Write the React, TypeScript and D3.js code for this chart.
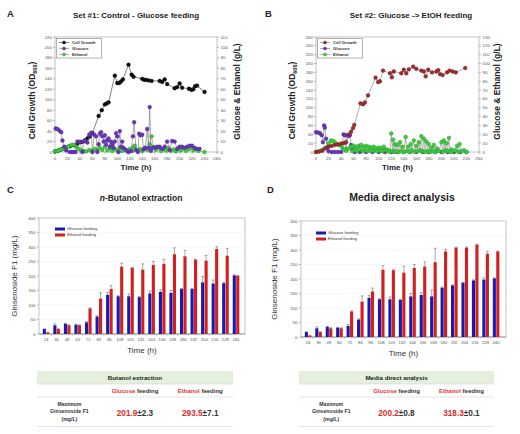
import React from "react";
import * as d3 from "d3";

const FONT = "Liberation Sans, Arial, Helvetica, sans-serif";

type Pt = [number, number];

// ---------- Panel A (Set #1: Control - Glucose feeding) ----------
const cellA: Pt[] = [
  [0, 1], [4, 2], [8, 4], [12, 6], [18, 8], [24, 11], [30, 13], [36, 16], [42, 19], [48, 22],
  [52, 26], [56, 30], [60, 36], [70, 69], [75, 80], [80, 91], [83, 93], [86, 95], [96, 146],
  [100, 132], [103, 132], [106, 135], [109, 139], [118, 167], [123, 148], [126, 144], [140, 140],
  [143, 138], [146, 138], [150, 137], [155, 136], [168, 136], [172, 134], [176, 139], [180, 130],
  [192, 122], [196, 124], [200, 131], [204, 123], [215, 121], [219, 119], [222, 120], [225, 126],
  [228, 127], [240, 115],
];
// glucose, g/L
const glcA: Pt[] = [
  [1, 22.5], [4, 22], [7, 20.5], [10, 19], [12, 11], [15, 5], [18, 1.5], [24, 0], [27, 0], [30, 0],
  [33, 0], [36, 10], [40, 10], [44, 0], [46, 10], [48, 11], [52, 9], [55, 16.5], [58, 18.5], [60, 0],
  [63, 16.5], [66, 15], [68, 0], [70, 7.5], [72, 17.5], [74, 19], [76, 15], [78, 10], [80, 16], [82, 7],
  [84, 11], [86, 13], [88, 5], [90, 10], [92, 7], [94, 4], [96, 10], [98, 18], [100, 15], [102, 0],
  [104, 20], [106, 5], [108, 10], [110, 4], [114, 2], [118, 0], [122, 1], [125, 15], [127, 28.5],
  [130, 2], [133, 0], [135, 17.5], [137, 16], [140, 16.5], [142, 2.5], [145, 4], [148, 22], [150, 4],
  [152, 43], [154, 1], [156, 4], [160, 4], [164, 5], [168, 5], [172, 3], [176, 5], [180, 10], [184, 2],
  [188, 10.5], [192, 10], [196, 3], [200, 5], [204, 5], [208, 4], [212, 5], [216, 6], [220, 6],
  [224, 4], [228, 3], [232, 3],
];
// ethanol, g/L
const ethA: Pt[] = [
  [0, 0.5], [3, 1], [6, 1.5], [10, 2.5], [14, 3.5], [18, 4.5], [22, 5.5], [26, 6.5], [30, 7], [34, 5],
  [38, 3], [42, 1.5], [46, 1], [50, 0.5], [55, 2], [60, 1], [64, 3], [68, 1.5], [72, 4], [76, 2],
  [80, 5], [84, 1.5], [88, 3.5], [92, 1], [96, 3], [100, 1.5], [104, 4], [108, 1], [112, 2.5],
  [116, 0.5], [120, 3], [124, 1], [126, 5], [128, 6], [132, 1.5], [136, 3], [140, 1], [144, 4],
  [148, 2], [152, 7.5], [155, 15], [158, 5], [162, 2], [166, 4], [170, 1], [174, 3], [178, 1.5],
  [182, 4], [186, 1], [190, 2.5], [194, 0.5], [198, 3], [202, 1.5], [206, 3.5], [210, 1], [214, 2.5],
  [218, 4], [222, 1.5], [226, 3], [230, 1], [240, 0],
];

// ---------- Panel B (Set #2: Glucose -> EtOH feeding) ----------
const cellB: Pt[] = [
  [0, 0], [5, 1], [10, 3], [15, 8], [20, 12], [25, 14], [30, 16], [35, 17], [40, 19], [44, 20],
  [48, 22], [53, 40], [56, 46], [59, 54], [61, 61], [71, 110], [75, 108], [78, 112], [83, 128],
  [95, 168], [99, 158], [102, 160], [107, 184], [118, 178], [121, 169], [124, 182], [136, 178],
  [140, 186], [144, 178], [148, 187], [155, 193], [160, 188], [168, 184], [172, 182], [175, 171],
  [179, 186], [185, 180], [192, 182], [195, 185], [198, 176], [202, 174], [209, 180], [213, 184],
  [218, 182], [223, 180], [238, 190],
];
const glcB: Pt[] = [
  [0, 22.5], [3, 22], [6, 21.5], [9, 19], [11, 11], [13, 30], [14, 27.5], [16, 15], [18, 5], [20, 1],
  [25, 0], [30, 0], [35, 0], [40, 0], [44, 20], [46, 19], [48, 2.5], [50, 19], [52, 18], [54, 19],
  [56, 8], [58, 2.5], [62, 0], [70, 0], [80, 0], [90, 0], [100, 0], [110, 0], [120, 0], [130, 0],
  [140, 0], [150, 0], [160, 0], [170, 0], [180, 0], [190, 0], [200, 0], [210, 0], [220, 0], [230, 0],
  [240, 0],
];
const ethB: Pt[] = [
  [0, 0], [5, 1], [10, 2.5], [15, 5], [20, 10], [24, 13], [27, 12.5], [30, 11], [34, 9], [38, 7.5],
  [42, 5], [45, 3], [48, 1.5], [52, 4], [56, 6], [58, 1], [60, 7], [62, 2], [64, 6], [66, 1], [68, 7],
  [70, 3], [72, 8], [74, 1], [76, 6], [78, 2], [80, 7], [82, 1], [84, 6], [86, 2], [88, 5], [90, 1],
  [92, 6], [94, 2], [96, 4], [98, 1], [100, 5], [102, 1.5], [104, 4], [106, 1], [108, 6], [110, 2],
  [112, 3], [114, 1], [116, 2], [118, 0], [120, 21], [122, 1], [123, 14], [125, 0], [126, 9], [128, 1],
  [130, 8], [132, 0], [134, 11], [136, 1], [138, 6], [140, 0], [143, 17], [145, 1], [147, 6], [149, 0],
  [151, 9], [153, 2], [156, 13], [158, 0], [160, 7], [162, 1], [164, 11], [166, 2], [168, 18], [170, 1],
  [172, 15], [174, 0], [176, 12], [178, 1], [180, 9], [182, 0], [184, 5], [186, 1], [188, 8], [190, 0],
  [193, 4], [196, 1], [200, 11], [202, 0], [204, 13], [206, 2], [208, 10], [210, 1], [212, 16],
  [214, 0], [216, 3], [218, 1], [222, 2], [225, 7], [227, 0], [229, 9], [232, 1], [236, 2], [240, 0],
];

// ---------- Panels C / D (Ginsenoside F1) ----------
const times = ["24", "36", "48", "60", "72", "84", "96", "108", "120", "132", "144", "156", "168", "180", "192", "204", "216", "228", "240"];
const cGlc = [17, 30, 35, 32, 40, 60, 135, 130, 130, 127, 140, 145, 142, 155, 155, 178, 174, 175, 202];
const cGlcErr = [1, 5, 2, 2, 3, 3, 8, 2, 8, 2, 8, 7, 8, 2, 2, 20, 12, 3, 2];
const cEth = [5, 17, 30, 30, 88, 122, 155, 232, 228, 222, 238, 242, 275, 268, 256, 253, 293, 270, 200];
const cEthErr = [1, 1, 2, 2, 2, 20, 12, 12, 2, 20, 12, 16, 22, 20, 2, 18, 8, 25, 2];
const dGlc = [17, 30, 35, 32, 38, 60, 135, 130, 130, 128, 140, 145, 140, 170, 178, 187, 195, 198, 202];
const dGlcErr = [1, 5, 2, 2, 5, 3, 8, 2, 8, 2, 10, 8, 22, 2, 2, 2, 2, 6, 2];
const dEth = [5, 17, 30, 30, 88, 122, 157, 232, 230, 222, 238, 243, 258, 295, 308, 308, 318, 287, 295];
const dEthErr = [1, 1, 2, 2, 2, 20, 12, 14, 2, 22, 12, 16, 48, 8, 2, 2, 2, 8, 1];

const tableC = { title: "Butanol extraction", glc: "201.9", glcSd: "±2.3", eth: "293.5", ethSd: "±7.1" };
const tableD = { title: "Media direct analysis", glc: "200.2", glcSd: "±0.8", eth: "318.3", ethSd: "±0.1" };

const PURPLE = "#6a35b8";
const GREEN = "#3ccf3c";
const BLUE = "#1a1ab0";
const RED = "#d02020";

type Series = { name: string; data: Pt[]; fill: string; stroke: string; line: string; axis: "l" | "r" };

function LinePanel(props: {
  box: { x0: number; x1: number; y0: number; y1: number };
  leftMax: number; leftStep: number; rightMax: number; rightStep: number;
  series: Series[]; legendOrder: Series[];
  leftTitleX: number; rightTitleX: number;
  letter: string; letterX: number; title: string; titleX: number;
}) {
  const { box } = props;
  const x = d3.scaleLinear().domain([0, 260]).range([box.x0, box.x1]);
  const yl = d3.scaleLinear().domain([0, props.leftMax]).range([box.y1, box.y0]);
  const yr = d3.scaleLinear().domain([0, props.rightMax]).range([box.y1, box.y0]);
  const xt = d3.range(0, 261, 20);
  const ylt = d3.range(0, props.leftMax + 0.1, props.leftStep);
  const yrt = d3.range(0, props.rightMax + 0.1, props.rightStep);
  const cy = (box.y0 + box.y1) / 2;
  const cx = (box.x0 + box.x1) / 2;
  const lx = box.x0 + 1.5, ly = box.y0 + 1.5;
  return (
    <g fontFamily={FONT}>
      <text x={props.letterX} y={17} fontSize={9.5} fontWeight="bold" fill="#222">{props.letter}</text>
      <text x={props.titleX} y={18} fontSize={8} fontWeight="bold" textAnchor="middle" fill="#222">{props.title}</text>
      <rect x={box.x0} y={box.y0} width={box.x1 - box.x0} height={box.y1 - box.y0} fill="#fff" stroke="#999" strokeWidth={0.6} />
      {xt.map((t) => (
        <g key={"x" + t}>
          <line x1={x(t)} x2={x(t)} y1={box.y1} y2={box.y1 + 2} stroke="#777" strokeWidth={0.5} />
          <text x={x(t)} y={box.y1 + 7.5} fontSize={4.4} textAnchor="middle" fill="#555">{t}</text>
        </g>
      ))}
      {ylt.map((v) => (
        <g key={"l" + v}>
          <line x1={box.x0 - 2} x2={box.x0} y1={yl(v)} y2={yl(v)} stroke="#777" strokeWidth={0.5} />
          <text x={box.x0 - 3} y={yl(v) + 1.5} fontSize={4.4} textAnchor="end" fill="#555">{v}</text>
        </g>
      ))}
      {yrt.map((v) => (
        <g key={"r" + v}>
          <line x1={box.x1} x2={box.x1 + 2} y1={yr(v)} y2={yr(v)} stroke="#777" strokeWidth={0.5} />
          <text x={box.x1 + 3.5} y={yr(v) + 1.5} fontSize={4.4} textAnchor="start" fill="#555">{v}</text>
        </g>
      ))}
      {props.series.map((s) => {
        const ys = s.axis === "l" ? yl : yr;
        const path = d3.line<Pt>().x((d) => x(d[0])).y((d) => ys(d[1]))(s.data) || "";
        return (
          <g key={s.name}>
            <path d={path} fill="none" stroke={s.line} strokeWidth={0.6} />
            {s.data.map((d, i) => (
              <circle key={i} cx={x(d[0])} cy={ys(d[1])} r={1.9} fill={s.fill} stroke={s.stroke} strokeWidth={0.4} />
            ))}
          </g>
        );
      })}
      <rect x={lx} y={ly} width={45} height={19.5} fill="#fff" stroke="#666" strokeWidth={0.5} />
      {props.legendOrder.map((s, i) => (
        <g key={"lg" + s.name}>
          <line x1={lx + 2.5} x2={lx + 12.5} y1={ly + 4 + i * 6} y2={ly + 4 + i * 6} stroke={s.line} strokeWidth={0.6} />
          <circle cx={lx + 7.5} cy={ly + 4 + i * 6} r={1.6} fill={s.fill} stroke={s.stroke} strokeWidth={0.4} />
          <text x={lx + 15.5} y={ly + 5.5 + i * 6} fontSize={4.2} fontWeight="bold" fill="#333">{s.name}</text>
        </g>
      ))}
      <text transform={`translate(${props.leftTitleX},${cy + 6}) rotate(-90)`} fontSize={8.5} fontWeight="bold" textAnchor="middle" fill="#222">
        Cell Growth (OD<tspan fontSize={5.5} dy={2}>600</tspan><tspan dy={-2}>)</tspan>
      </text>
      <text transform={`translate(${props.rightTitleX},${cy - 3}) rotate(-90)`} fontSize={8.5} fontWeight="bold" textAnchor="middle" fill="#222">
        Glucose &amp; Ethanol (g/L)
      </text>
      <text x={cx} y={170} fontSize={8} fontWeight="bold" textAnchor="middle" fill="#222">Time (h)</text>
    </g>
  );
}

function BarPanel(props: {
  frame: { x0: number; x1: number; y0: number; y1: number };
  bandRange: [number, number];
  glc: number[]; glcErr: number[]; eth: number[]; ethErr: number[];
  letter: string; letterX: number; title: React.ReactNode; titleX: number; titleSize: number;
  yTitleX: number; legendX: number; legendY: number;
}) {
  const f = props.frame;
  const x = d3.scaleBand<string>().domain(times).range(props.bandRange);
  const sub = d3.scaleBand<string>().domain(["g", "e"]).range([-3.2, 3.4]).paddingInner(0.1);
  const y = d3.scaleLinear().domain([0, 400]).range([f.y1, f.y0]);
  const yt = d3.range(0, 401, 50);
  const center = (t: string) => (x(t) as number) + x.bandwidth() / 2;
  const sets = [
    { key: "g", vals: props.glc, errs: props.glcErr, color: BLUE },
    { key: "e", vals: props.eth, errs: props.ethErr, color: RED },
  ];
  return (
    <g fontFamily={FONT}>
      <text x={props.letterX} y={193} fontSize={9.5} fontWeight="bold" fill="#222">{props.letter}</text>
      <text x={props.titleX} y={201} fontSize={props.titleSize} fontWeight="bold" textAnchor="middle" fill="#222">{props.title}</text>
      <rect x={f.x0} y={f.y0} width={f.x1 - f.x0} height={f.y1 - f.y0} fill="#fff" stroke="#999" strokeWidth={0.6} />
      {yt.map((v) => (
        <g key={"y" + v}>
          {v > 0 && <line x1={f.x0} x2={f.x1} y1={y(v)} y2={y(v)} stroke="#eeeeee" strokeWidth={0.5} />}
          <line x1={f.x0 - 2} x2={f.x0} y1={y(v)} y2={y(v)} stroke="#777" strokeWidth={0.5} />
          <text x={f.x0 - 3.5} y={y(v) + 1.5} fontSize={4.4} textAnchor="end" fill="#555">{v}</text>
        </g>
      ))}
      <line x1={f.x0} x2={f.x1} y1={f.y1} y2={f.y1} stroke="#777" strokeWidth={0.6} />
      {sets.map((s) =>
        s.vals.map((v, i) => {
          const t = times[i];
          const bx = center(t) + (sub(s.key) as number);
          const bw = sub.bandwidth();
          const top = y(v);
          const et = y(v + s.errs[i]);
          const mx = bx + bw / 2;
          return (
            <g key={s.key + i}>
              <line x1={mx} x2={mx} y1={top} y2={et} stroke="#555" strokeWidth={0.5} />
              <line x1={mx - 1.4} x2={mx + 1.4} y1={et} y2={et} stroke="#555" strokeWidth={0.5} />
              <rect x={bx} y={top} width={bw} height={f.y1 - top} fill={s.color} />
            </g>
          );
        })
      )}
      {times.map((t) => (
        <g key={"t" + t}>
          <line x1={(x(t) as number)} x2={(x(t) as number)} y1={f.y1} y2={f.y1 + 1.5} stroke="#777" strokeWidth={0.4} />
          <text x={center(t)} y={f.y1 + 7} fontSize={4.2} textAnchor="middle" fill="#555">{t}</text>
        </g>
      ))}
      <rect x={props.legendX} y={props.legendY - 1.5} width={10} height={3} fill={BLUE} />
      <text x={props.legendX + 12} y={props.legendY + 1.4} fontSize={4.2} fill="#333">Glucose feeding</text>
      <rect x={props.legendX} y={props.legendY + 4.5} width={10} height={3} fill={RED} />
      <text x={props.legendX + 12} y={props.legendY + 7.4} fontSize={4.2} fill="#333">Ethanol feeding</text>
      <text transform={`translate(${props.yTitleX},${(f.y0 + f.y1) / 2}) rotate(-90)`} fontSize={8} textAnchor="middle" fill="#333">
        Ginsenoside F1 (mg/L)
      </text>
      <text x={(f.x0 + f.x1) / 2} y={f.y1 + 19} fontSize={8} textAnchor="middle" fill="#333">Time (h)</text>
    </g>
  );
}

function Table(props: { x0: number; x1: number; info: typeof tableC }) {
  const { x0, x1, info } = props;
  const w = x1 - x0;
  const c1 = x0 + w * 0.15;
  const c2 = x0 + w * 0.5;
  const c3 = x0 + w * 0.833;
  return (
    <g fontFamily={FONT} fontWeight="bold">
      <rect x={x0} y={371} width={w} height={13} fill="#e4f0dc" />
      <line x1={x0} x2={x1} y1={384} y2={384} stroke="#d4d4d4" strokeWidth={0.6} />
      <line x1={x0} x2={x1} y1={397} y2={397} stroke="#d4d4d4" strokeWidth={0.6} />
      <line x1={x0} x2={x1} y1={426.5} y2={426.5} stroke="#d4d4d4" strokeWidth={0.6} />
      <text x={(x0 + x1) / 2} y={380} fontSize={6.2} textAnchor="middle" fill="#222">{info.title}</text>
      <text x={c2} y={393} fontSize={6} textAnchor="middle">
        <tspan fill="#e8302e">Glucose</tspan><tspan fill="#333"> feeding</tspan>
      </text>
      <text x={c3} y={393} fontSize={6} textAnchor="middle">
        <tspan fill="#e8302e">Ethanol</tspan><tspan fill="#333"> feeding</tspan>
      </text>
      <text x={c1 + 3} y={405.5} fontSize={5.2} textAnchor="middle" fill="#333">Maximum</text>
      <text x={c1 + 3} y={413} fontSize={5.2} textAnchor="middle" fill="#333">Ginsenoside F1</text>
      <text x={c1 + 3} y={420.5} fontSize={5.2} textAnchor="middle" fill="#333">(mg/L)</text>
      <text x={c2} y={415.5} fontSize={8.2} textAnchor="middle">
        <tspan fill="#e02828">{info.glc}</tspan><tspan fill="#333">{info.glcSd}</tspan>
      </text>
      <text x={c3} y={415.5} fontSize={8.2} textAnchor="middle">
        <tspan fill="#e02828">{info.eth}</tspan><tspan fill="#333">{info.ethSd}</tspan>
      </text>
    </g>
  );
}

export default function App() {
  const sCellA: Series = { name: "Cell Growth", data: cellA, fill: "#111", stroke: "#000", line: "#333", axis: "l" };
  const sGlcA: Series = { name: "Glucose", data: glcA, fill: PURPLE, stroke: "#4a2090", line: "#777", axis: "r" };
  const sEthA: Series = { name: "Ethanol", data: ethA, fill: GREEN, stroke: "#1e8e1e", line: "#888", axis: "r" };
  const sCellB: Series = { name: "Cell Growth", data: cellB, fill: "#9a2f2f", stroke: "#6e1a1a", line: "#777", axis: "l" };
  const sGlcB: Series = { name: "Glucose", data: glcB, fill: PURPLE, stroke: "#4a2090", line: "#777", axis: "r" };
  const sEthB: Series = { name: "Ethanol", data: ethB, fill: GREEN, stroke: "#1e8e1e", line: "#888", axis: "r" };
  return (
    <svg width={520} height={434} style={{ position: "absolute", left: 0, top: 0, background: "#fff" }}>
      <rect x={0} y={0} width={520} height={434} fill="#fff" />
      <LinePanel
        box={{ x0: 55, x1: 217, y0: 37, y1: 152 }}
        leftMax={220} leftStep={20} rightMax={110} rightStep={10}
        series={[sCellA, sEthA, sGlcA]} legendOrder={[sCellA, sGlcA, sEthA]}
        leftTitleX={35} rightTitleX={240}
        letter="A" letterX={7} title="Set #1: Control - Glucose feeding" titleX={136}
      />
      <LinePanel
        box={{ x0: 316, x1: 479, y0: 37, y1: 152 }}
        leftMax={260} leftStep={20} rightMax={130} rightStep={10}
        series={[sGlcB, sEthB, sCellB]} legendOrder={[sCellB, sGlcB, sEthB]}
        leftTitleX={295} rightTitleX={500}
        letter="B" letterX={265} title="Set #2: Glucose -> EtOH feeding" titleX={411}
      />
      <BarPanel
        frame={{ x0: 39, x1: 245, y0: 218, y1: 334 }} bandRange={[40.7, 241.2]}
        glc={cGlc} glcErr={cGlcErr} eth={cEth} ethErr={cEthErr}
        letter="C" letterX={7} title={<><tspan fontStyle="italic">n</tspan>-Butanol extraction</>} titleX={141} titleSize={8.5}
        yTitleX={17} legendX={55} legendY={229}
      />
      <BarPanel
        frame={{ x0: 301, x1: 506, y0: 221, y1: 337 }} bandRange={[302.8, 501.2]}
        glc={dGlc} glcErr={dGlcErr} eth={dEth} ethErr={dEthErr}
        letter="D" letterX={267} title="Media direct analysis" titleX={402} titleSize={10.5}
        yTitleX={277} legendX={316} legendY={233}
      />
      <Table x0={37} x1={233} info={tableC} />
      <Table x0={299} x1={494} info={tableD} />
    </svg>
  );
}
